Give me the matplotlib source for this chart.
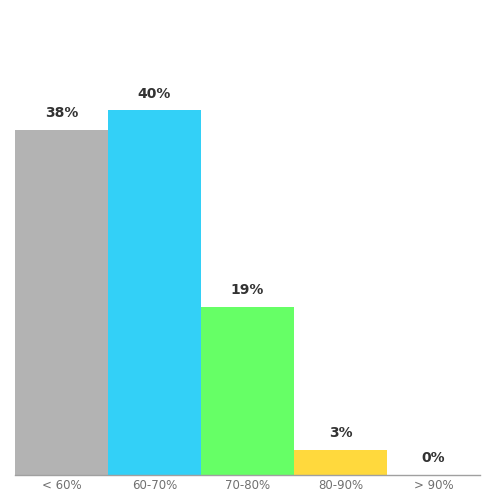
import matplotlib
matplotlib.use("Agg")
import matplotlib.pyplot as plt

# score bands and share of students (%)
categories = ["< 60%", "60-70%", "70-80%", "80-90%", "> 90%"]
values = [38.2, 40.4, 18.6, 2.8, 0.0]
colors = ["#b3b3b3", "#33d0f7", "#66ff66", "#ffd93d", "#cccccc"]

fig = plt.figure(figsize=(5, 5), dpi=100)
ax = fig.add_axes([0.03, 0.05, 0.93, 0.908])

x = range(len(categories))
bars = ax.bar(x, values, width=1.0, color=colors, edgecolor="none")

for b, v in zip(bars, values):
    ax.annotate(f"{round(v)}%", (b.get_x() + b.get_width() / 2, b.get_height()),
                xytext=(0, 7), textcoords="offset points",
                ha="center", va="bottom", fontsize=10, fontweight="bold",
                color="#333333")

ax.set_xlim(-0.5, len(categories) - 0.5)
ax.set_ylim(0, 50.3)
ax.set_xticks(list(x))
ax.set_xticklabels(categories, fontsize=8.5, color="#707070")
ax.tick_params(axis="x", length=0, pad=3)
ax.set_yticks([])

for side in ["top", "right", "left"]:
    ax.spines[side].set_visible(False)
ax.spines["bottom"].set_color("#a0a0a0")
ax.spines["bottom"].set_linewidth(1.0)

fig.savefig("out.png", dpi=100, facecolor="white")
